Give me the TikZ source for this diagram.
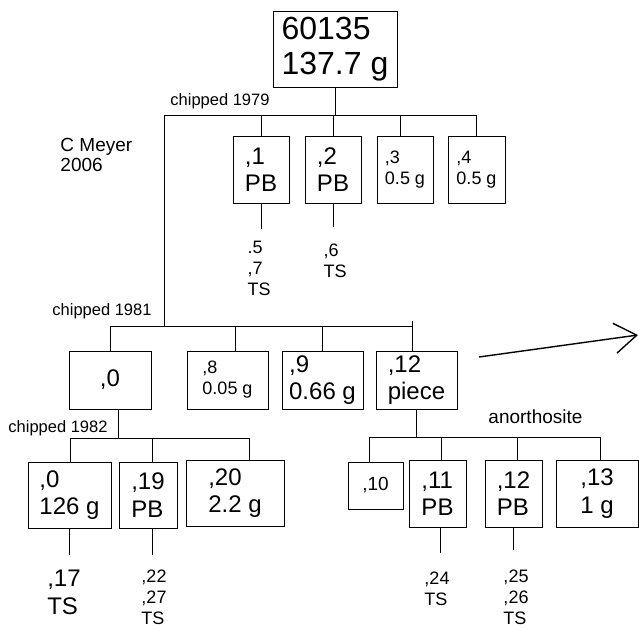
\documentclass[tikz,border=0pt]{standalone}
\usepackage{fontspec}
\setmainfont{Liberation Sans}
\usetikzlibrary{arrows.meta}

\begin{document}
\begin{tikzpicture}[x=1pt,y=-1pt,line width=0.9pt,
  box/.style={draw,align=left,inner sep=0pt},
  lbl/.style={align=left,inner sep=0pt},
  fbig/.style={font=\fontsize{32}{35}\selectfont},
  fmid/.style={font=\fontsize{24}{27.5}\selectfont},
  fsml/.style={font=\fontsize{18}{21}\selectfont},
  fnote/.style={font=\fontsize{16.5}{19}\selectfont}]
  \useasboundingbox (0,0) rectangle (639,629);
  % sample and first split
  \node[box,fbig,minimum width=124pt,minimum height=76pt] (root) at (335,49) {60135\\137.7 g};
  \coordinate (busA) at (164,115);
  \coordinate (busB) at (476,115);
  \draw (root) -- (root |- busA);
  \draw (busA) -- (busB);
  \node[lbl,fnote,anchor=base west] (c79) at (170,105) {chipped 1979};
  \node[lbl,font=\fontsize{19}{20}\selectfont,anchor=north west] (cm) at (60,138) {C Meyer\\2006};
  \node[box,fmid,minimum width=56pt,minimum height=67pt] (p1) at (261,169.5) {,1\\PB};
  \node[box,fmid,minimum width=56pt,minimum height=67pt] (p2) at (333,169.5) {,2\\PB};
  \node[box,fsml,minimum width=56pt,minimum height=67pt] (p3) at (405,169.5) {,3\\0.5 g};
  \node[box,fsml,minimum width=57pt,minimum height=67pt] (p4) at (476.5,169.5) {,4\\0.5 g};
  \draw (p1) -- (p1 |- busA);
  \draw (p2) -- (p2 |- busA);
  \draw ([xshift=-5pt]p3.north) -- ([xshift=-5pt]p3.north |- busA);
  \draw (busB) -- (busB |- p4.north);
  \node[lbl,fsml,anchor=north] (ts1) at (259,241) {.5\\,7\\TS};
  \node[lbl,fsml,anchor=north] (ts2) at (335,243) {,6\\TS};
  \draw[shorten >=12pt] (p1) -- (p1 |- ts1.north);
  \draw[shorten >=16pt] (p2) -- (p2 |- ts2.north);
  % 1981
  \coordinate (busC) at (110,326);
  \coordinate (busD) at (412,321);
  \draw (busA) -- (busA |- busC);
  \draw (busC) -- (busC -| busD);
  \node[lbl,fnote,anchor=base east] (c81) at (152,315) {chipped 1981};
  \node[box,fmid,minimum width=82pt,minimum height=58pt] (q0) at (110,380) {,0};
  \node[box,fsml,minimum width=81pt,minimum height=58pt] (q8) at (227.5,380) {,8\\0.05 g};
  \node[box,fmid,minimum width=81pt,minimum height=58pt] (q9) at (322.5,380) {,9\\0.66 g};
  \node[box,fmid,minimum width=81pt,minimum height=58pt] (q12) at (416.5,380) {,12\\piece};
  \draw (q0) -- (q0 |- busC);
  \draw ([xshift=8pt]q8.north) -- ([xshift=8pt]q8.north |- busC);
  \draw (q9) -- (q9 |- busC);
  \draw (busD) -- (busD |- q12.north);
  \coordinate (arrA) at (479,357);
  \coordinate (arrB) at (638,335);
  \draw[line width=1.4pt,-{Straight Barb[length=22pt,width=30pt]}] (arrA) -- (arrB);
  % 1982
  \coordinate (busE) at (70,438);
  \coordinate (busF) at (249,438);
  \draw ([xshift=8pt]q0.south) -- ([xshift=8pt]q0.south |- busE);
  \draw (busE) -- (busF);
  \node[lbl,fnote,anchor=base east] (c82) at (108,432) {chipped 1982};
  \node[box,fmid,minimum width=83pt,minimum height=66pt] (r0) at (69.5,495) {,0\\126 g};
  \node[box,fmid,minimum width=58pt,minimum height=66pt] (r19) at (148,495) {,19\\PB};
  \node[box,fmid,minimum width=98pt,minimum height=66pt] (r20) at (235,493) {,20\\2.2 g};
  \draw (busE) -- (busE |- r0.north);
  \draw ([xshift=4pt]r19.north) -- ([xshift=4pt]r19.north |- busE);
  \draw (busF) -- (busF |- r20.north);
  \node[lbl,fmid,anchor=north] (ts17) at (64,570) {,17\\TS};
  \node[lbl,fsml,anchor=north] (ts22) at (154,569) {,22\\,27\\TS};
  \draw[shorten >=15pt] (r0) -- (r0 |- ts17.north);
  \draw[shorten >=14pt] ([xshift=4pt]r19.south) -- ([xshift=4pt]r19.south |- ts22.north);
  % piece ,12
  \coordinate (busG) at (369,437);
  \coordinate (busH) at (600,437);
  \draw (q12) -- (q12 |- busG);
  \draw (busG) -- (busH);
  \node[lbl,font=\fontsize{19}{21}\selectfont,anchor=base west] (ano) at (488,423) {anorthosite};
  \node[box,font=\fontsize{19}{21}\selectfont,minimum width=55pt,minimum height=47pt] (u10) at (375.5,485.5) {,10};
  \node[box,fmid,minimum width=57pt,minimum height=67pt] (u11) at (437.5,493.5) {,11\\PB};
  \node[box,fmid,minimum width=57pt,minimum height=67pt] (u12) at (513.5,493.5) {,12\\PB};
  \node[box,fmid,minimum width=82pt,minimum height=67pt] (u13) at (597,493.5) {,13\\1 g};
  \draw (busG) -- (busG |- u10.north);
  \draw ([xshift=4pt]u11.north) -- ([xshift=4pt]u11.north |- busG);
  \draw ([xshift=4pt]u12.north) -- ([xshift=4pt]u12.north |- busG);
  \draw (busH) -- (busH |- u13.north);
  \node[lbl,fsml,anchor=north] (ts24) at (437,571) {,24\\TS};
  \node[lbl,fsml,anchor=north] (ts25) at (516,569) {,25\\,26\\TS};
  \draw[shorten >=18pt] ([xshift=3pt]u11.south) -- ([xshift=3pt]u11.south |- ts24.north);
  \draw[shorten >=19pt] (u12) -- (u12 |- ts25.north);
\end{tikzpicture}
\end{document}
